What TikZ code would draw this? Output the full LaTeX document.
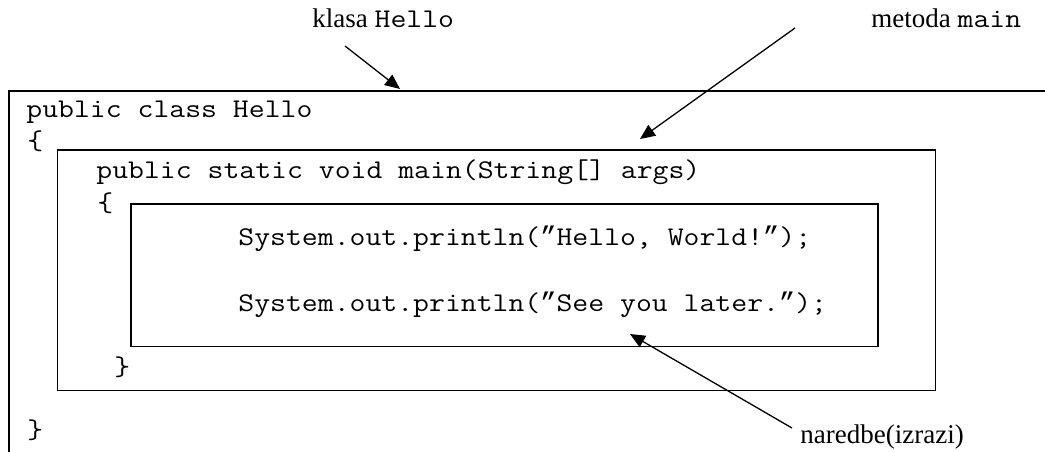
\documentclass[tikz,border=0pt]{standalone}
\usepackage{fontspec}
\setmainfont{Liberation Serif}
\setmonofont{Latin Modern Mono}[FakeStretch=1.143]
\newfontfamily\qfont{Liberation Mono}
\newcommand{\cq}{{\qfont ”}}
\usetikzlibrary{arrows.meta}
\begin{document}
\begin{tikzpicture}[x=0.5pt,y=-0.5pt,
  box/.style={line width=0.8pt},
  code/.style={anchor=base west,inner sep=0pt,font=\fontsize{13.5}{16}\selectfont\ttfamily},
  lbl/.style={anchor=base west,inner sep=0pt,font=\fontsize{13.5}{16}\selectfont},
  ptr/.style={line width=0.65pt,-{Triangle[length=7.5pt,width=6.5pt]}}]
\useasboundingbox (0,0) rectangle (1045,451);
% boxes
\draw[box] (1046,91) -- (9,91) -- (9,452);
\draw[box] (57.5,150) rectangle (935.5,390.5);
\draw[box] (131,204) rectangle (878,346.5);
% code
\node[code] (c1) at (26,117) {public class Hello};
\node[code] (b1) at (27,149) {\{};
\node[code] (c2) at (96,178) {public static void main(String[] args)};
\node[code] (b2) at (97,211) {\{};
\node[code] (s1) at (238,245) {System.out.println(\cq Hello, World!\cq);};
\node[code] (s2) at (238,311) {System.out.println(\cq See you later.\cq);};
\node[code] (b3) at (114,375) {\}};
\node[code] (b4) at (27,438) {\}};
% labels
\node[lbl] (lk) at (312,27) {klasa \texttt{Hello}};
\node[lbl] (lm) at (871,27) {metoda \texttt{main}};
\node[lbl] (ln) at (800,443) {naredbe(izrazi)};
% arrow tails and tips
\coordinate (tk0) at (345,46);
\coordinate (tk) at (400,89);
\coordinate (tm0) at (795,28);
\coordinate (tm) at (640,139);
\coordinate (tn0) at (792,428);
\coordinate (tn) at (630,334);
\draw[ptr] (tk0) -- (tk);
\draw[ptr] (tm0) -- (tm);
\draw[ptr] (tn0) -- (tn);
\end{tikzpicture}
\end{document}
